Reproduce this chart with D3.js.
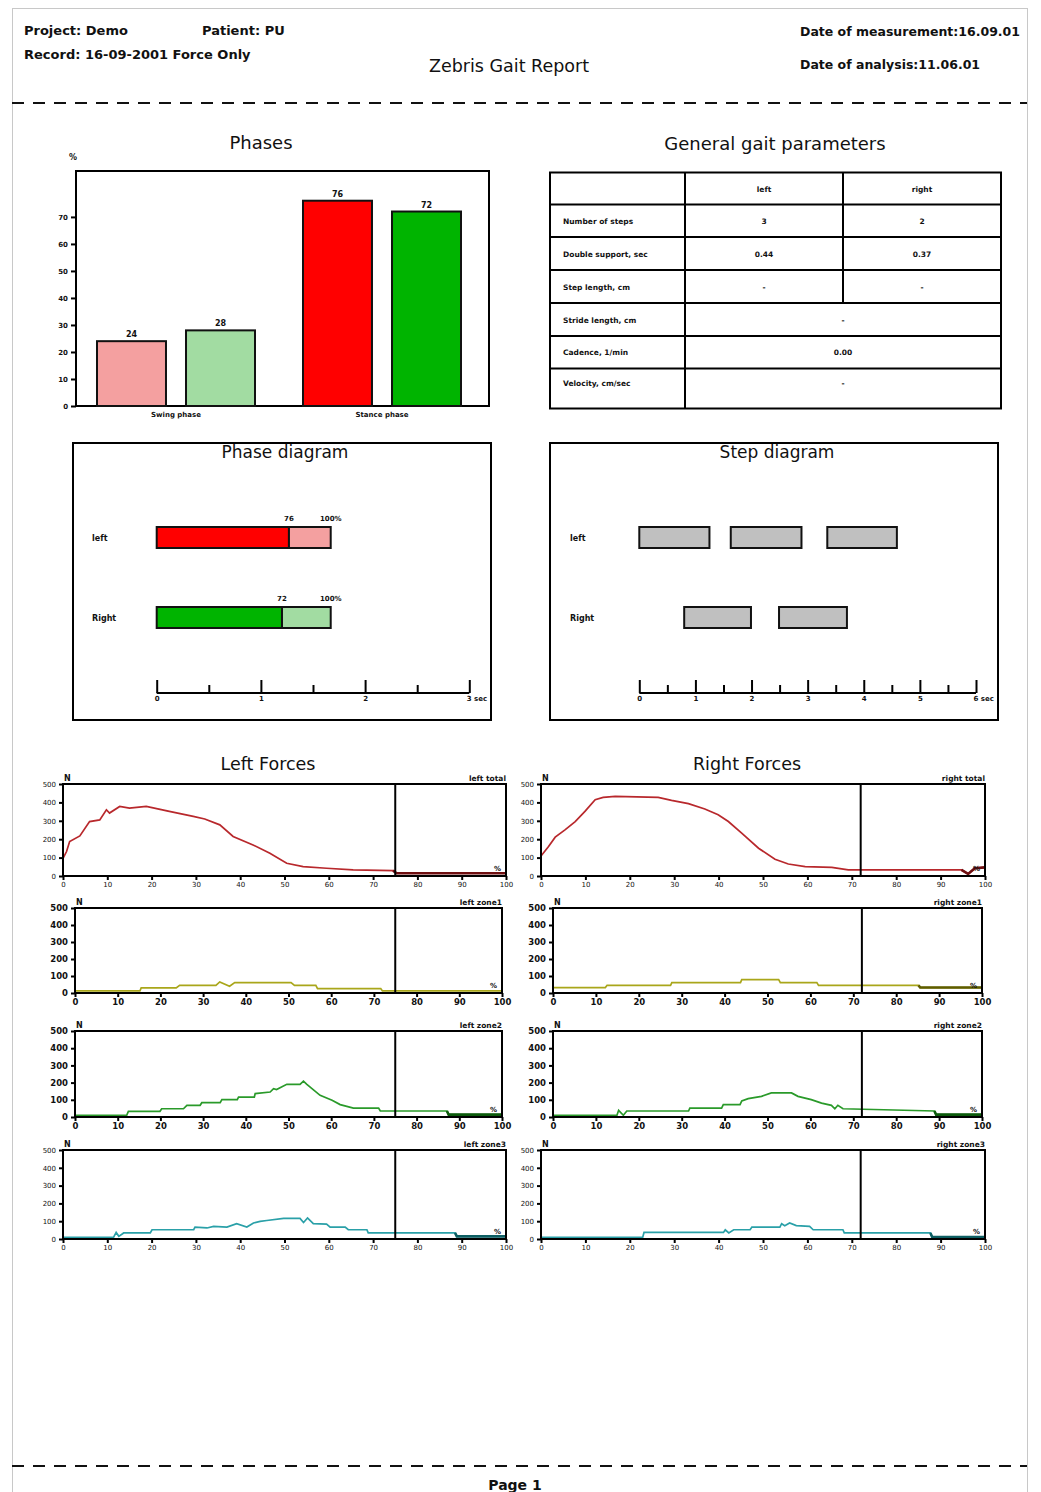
<!DOCTYPE html>
<html>
<head>
<meta charset="utf-8">
<script src="https://cdn.jsdelivr.net/npm/d3@7"></script>
<style>
  body { margin: 0; background: #fff; }
  text { font-family: "DejaVu Sans", sans-serif; fill: #111; }
</style>
</head>
<body>
<div id="report"></div>
<script>
// ---- data ----
const phaseGroups = ["Swing phase", "Stance phase"];
const phaseSides = ["left", "right"];
const leftPhases = [24, 76];
const rightPhases = [28, 72];
const phaseTicks = [0, 10, 20, 30, 40, 50, 60, 70];

const tableHead = ["", "left", "right"];
const tableRows = ["Number of steps", "Double support, sec", "Step length, cm", "Stride length, cm", "Cadence, 1/min", "Velocity, cm/sec"];
const tableLeft = ["3", "0.44", "-", "-", "0.00", "-"];
const tableRight = ["2", "0.37", "-", null, null, null]; // null = merged cell

const sides = ["left", "Right"];
const cycleTime = [1.67, 1.67];     // sec
const stancePercent = [76, 72];
const phaseSecTicks = [0, 1, 2, 3];

const leftSteps = [[0, 1.25], [1.63, 2.89], [3.35, 4.59]];
const rightSteps = [[0.8, 1.99], [2.49, 3.7]];
const stepSecTicks = [0, 1, 2, 3, 4, 5, 6];

const percentTicks = [0, 10, 20, 30, 40, 50, 60, 70, 80, 90, 100];
const forceTicks = [0, 100, 200, 300, 400, 500];
const leftStanceEnd = 75;
const rightStanceEnd = 72;

const leftTotal = [[0,96],[0.8,133],[1.5,187],[3.8,218],[6,296],[8.3,305],[9.8,360],[10.5,342],[12.8,378],[15,369],[18.8,378],[24,351],[29.4,324],[32,310],[35.4,278],[38.4,215],[42.9,169],[46.7,124],[50.5,69],[54.2,51],[59.5,42],[65.5,33],[74.5,29],[75.3,15],[97,15],[100,15]];
const leftZone1 = [[0,12],[15.2,12],[15.5,30],[23.7,30],[24.5,45],[33,45],[33.9,65],[36.2,40],[37.4,61],[50.6,61],[51.4,45],[56.4,45],[56.8,26],[71.6,26],[72,12],[100,12]];
const leftZone2 = [[0,10],[12.1,10],[12.5,33],[19.9,33],[20.3,48],[25.4,48],[26.2,68],[29.3,68],[29.7,83],[34,83],[34.4,101],[38,101],[38.3,116],[42,116],[42.2,136],[45.7,145],[46.5,165],[47.2,160],[49.6,190],[52.7,190],[53.5,209],[54.3,190],[57.4,126],[60.2,97],[62.1,72],[65.2,52],[71.1,52],[71.5,35],[87.1,35],[87.5,14],[100,14]];
const leftZone3 = [[0,9],[11.4,9],[12,37],[12.6,15],[13.7,34],[19.7,34],[20.1,52],[29.5,52],[29.8,67],[32.5,62],[34,71],[37,67],[39.2,86],[41.5,67],[43,90],[44.5,99],[46,104],[49.8,116],[53.5,116],[54.3,93],[55.2,118],[56.5,86],[59.5,84],[60.3,67],[63.7,67],[64.4,52],[68.6,52],[68.9,34],[88.5,34],[88.9,15],[100,15]];

const rightTotal = [[0,109],[1.7,160],[3.2,211],[5.4,251],[7.7,296],[9.9,351],[12.2,415],[14,427],[16.7,433],[26.4,427],[29.4,411],[33.2,393],[36.9,364],[39.9,333],[42.2,296],[45.2,233],[49,151],[52.7,91],[55.7,65],[59.5,51],[65.5,47],[69.2,33],[94.7,33],[96.2,11],[97.7,42],[100,47]];
const rightZone1 = [[0,32],[12.2,32],[12.6,45],[27.4,45],[27.7,61],[43.7,61],[44,79],[52.6,79],[53,61],[61.5,61],[61.9,45],[85.2,45],[85.6,32],[100,32]];
const rightZone2 = [[0,10],[14.9,10],[15.3,39],[16.4,10],[17.2,35],[31.6,35],[31.9,52],[39.3,52],[39.7,72],[43.6,72],[44,93],[45.5,107],[48.6,120],[50.9,140],[55.6,140],[57.1,120],[60.2,101],[62.6,81],[64.9,68],[65.7,48],[66.4,68],[67.6,48],[88.9,35],[89.3,14],[100,14]];
const rightZone3 = [[0,9],[22.9,9],[23.2,37],[41.1,37],[41.5,52],[42.3,34],[43.4,52],[47.1,52],[47.5,67],[53.8,67],[54.2,86],[54.9,75],[56,90],[57.5,75],[60.5,71],[61.3,52],[68,52],[68.3,34],[87.7,34],[88.1,11],[100,11]];

// ---- page ----
const W = 1041, H = 1492;
const svg = d3.select("#report").append("svg")
  .attr("width", W).attr("height", H);

svg.append("rect").attr("x", 12.5).attr("y", 8.5).attr("width", 1015).attr("height", H)
  .attr("fill", "none").attr("stroke", "#c8c8c8");

const txt = (x, y, s, size, opts = {}) => svg.append("text")
  .attr("x", x).attr("y", y).text(s)
  .attr("font-size", size)
  .attr("font-weight", opts.bold ? "bold" : "normal")
  .attr("text-anchor", opts.anchor || "start");

txt(24, 35, "Project: Demo", 13, { bold: true });
txt(202, 35, "Patient: PU", 13, { bold: true });
txt(24, 59, "Record: 16-09-2001 Force Only", 13, { bold: true });
txt(509, 72, "Zebris Gait Report", 17.5, { anchor: "middle" });
txt(800, 36, "Date of measurement:16.09.01", 12.5, { bold: true });
txt(800, 69, "Date of analysis:11.06.01", 12.5, { bold: true });

[103, 1466].forEach(y => svg.append("line")
  .attr("x1", 12).attr("x2", 1027).attr("y1", y).attr("y2", y)
  .attr("stroke", "#111").attr("stroke-width", 2).attr("stroke-dasharray", "12,9"));
txt(515, 1490, "Page 1", 14, { bold: true, anchor: "middle" });

const styleAxis = (g, size, bold) => {
  g.select(".domain").remove();
  g.selectAll("line").attr("stroke", "#000").attr("stroke-width", 2);
  g.selectAll("text").attr("font-size", size).attr("font-weight", bold ? "bold" : "normal")
    .attr("fill", "#111").attr("font-family", "DejaVu Sans, sans-serif");
};

// ---- Phases bar chart ----
{
  const box = { x0: 76, x1: 489, y0: 171, y1: 406 };
  txt(261, 149, "Phases", 18, { anchor: "middle" });
  const x0 = d3.scaleBand().domain(phaseGroups).range([97, 461]).paddingInner(0.233);
  const x1 = d3.scaleBand().domain(phaseSides).range([0, x0.bandwidth()]).paddingInner(0.225);
  const y = d3.scaleLinear().domain([0, 87]).range([box.y1, box.y0]);
  const colors = { left: ["#f4a0a0", "#ff0000"], right: ["#a2dca2", "#00b400"] };
  const vals = { left: leftPhases, right: rightPhases };

  svg.append("rect").attr("x", box.x0).attr("y", box.y0)
    .attr("width", box.x1 - box.x0).attr("height", box.y1 - box.y0)
    .attr("fill", "none").attr("stroke", "#000").attr("stroke-width", 2);

  const g = svg.append("g");
  phaseGroups.forEach((grp, i) => {
    phaseSides.forEach(side => {
      const v = vals[side][i];
      const bx = x0(grp) + x1(side);
      g.append("rect").attr("x", bx).attr("y", y(v))
        .attr("width", x1.bandwidth()).attr("height", y(0) - y(v))
        .attr("fill", colors[side][i]).attr("stroke", "#111").attr("stroke-width", 2);
      g.append("text").attr("x", bx + x1.bandwidth() / 2).attr("y", y(v) - 4)
        .attr("text-anchor", "middle").attr("font-size", 8).attr("font-weight", "bold").text(v);
    });
    g.append("text").attr("x", x0(grp) + x0.bandwidth() / 2).attr("y", 417)
      .attr("text-anchor", "middle").attr("font-size", 7).attr("font-weight", "bold").text(grp);
  });

  svg.append("g").attr("transform", `translate(${box.x0},0)`)
    .call(d3.axisLeft(y).tickValues(phaseTicks).tickSize(5).tickPadding(3))
    .call(ax => styleAxis(ax, 7, true));
  txt(69, 160, "%", 8, { bold: true });
}

// ---- General gait parameters table ----
{
  txt(775, 150, "General gait parameters", 18, { anchor: "middle" });
  const colX = [550, 685, 843, 1001];
  const rowB = [172.5, 204.5, 237, 270, 303, 336, 368.5, 408.5];
  const t = svg.append("g");
  t.append("rect").attr("x", colX[0]).attr("y", rowB[0])
    .attr("width", colX[3] - colX[0]).attr("height", rowB[7] - rowB[0])
    .attr("fill", "none").attr("stroke", "#000").attr("stroke-width", 2);
  rowB.slice(1, -1).forEach(yy => t.append("line")
    .attr("x1", colX[0]).attr("x2", colX[3]).attr("y1", yy).attr("y2", yy)
    .attr("stroke", "#000").attr("stroke-width", 2));
  t.append("line").attr("x1", colX[1]).attr("x2", colX[1]).attr("y1", rowB[0]).attr("y2", rowB[7])
    .attr("stroke", "#000").attr("stroke-width", 2);
  t.append("line").attr("x1", colX[2]).attr("x2", colX[2]).attr("y1", rowB[0]).attr("y2", rowB[4])
    .attr("stroke", "#000").attr("stroke-width", 2);

  const cell = (x, y, s, anchor) => t.append("text").attr("x", x).attr("y", y)
    .attr("text-anchor", anchor).attr("font-size", 7.5).attr("font-weight", "bold").text(s);
  const midY = i => (i === 6 ? rowB[i] + 17 : (rowB[i] + rowB[i + 1]) / 2 + 3);
  cell((colX[1] + colX[2]) / 2, midY(0), tableHead[1], "middle");
  cell((colX[2] + colX[3]) / 2, midY(0), tableHead[2], "middle");
  tableRows.forEach((r, i) => {
    cell(563, midY(i + 1), r, "start");
    if (tableRight[i] === null) {
      cell((colX[1] + colX[3]) / 2, midY(i + 1), tableLeft[i], "middle");
    } else {
      cell((colX[1] + colX[2]) / 2, midY(i + 1), tableLeft[i], "middle");
      cell((colX[2] + colX[3]) / 2, midY(i + 1), tableRight[i], "middle");
    }
  });
}

// shared helper for the two diagrams' time axes
const timeAxis = (x, ticks, yLine, unitTick) => {
  const minor = [];
  for (let i = 0; i < ticks.length - 1; i++) minor.push((ticks[i] + ticks[i + 1]) / 2);
  svg.append("line").attr("x1", x(ticks[0])).attr("x2", x(ticks[ticks.length - 1]))
    .attr("y1", yLine).attr("y2", yLine).attr("stroke", "#000").attr("stroke-width", 2);
  svg.append("g").attr("transform", `translate(0,${yLine})`)
    .call(d3.axisBottom(x).tickValues(minor).tickSize(-8).tickFormat(""))
    .call(ax => styleAxis(ax, 7, true));
  const major = svg.append("g").attr("transform", `translate(0,${yLine})`)
    .call(d3.axisBottom(x).tickValues(ticks).tickSize(-13).tickPadding(3)
      .tickFormat(d => d === unitTick ? d + " sec" : d))
    .call(ax => styleAxis(ax, 7, true));
  major.selectAll(".tick").filter(d => d === unitTick).select("text")
    .attr("text-anchor", "start").attr("x", -3);
};

const frame = (x0, y0, x1, y1, title) => {
  svg.append("rect").attr("x", x0).attr("y", y0).attr("width", x1 - x0).attr("height", y1 - y0)
    .attr("fill", "none").attr("stroke", "#000").attr("stroke-width", 2);
  txt((x0 + x1) / 2 + 3, y0 + 15, title, 17, { anchor: "middle" });
};

// ---- Phase diagram ----
{
  frame(73, 443, 491, 720, "Phase diagram");
  const x = d3.scaleLinear().domain([0, 3]).range([156.7, 469.3]);
  const y = d3.scalePoint().domain(sides).range([537.5, 617.5]);
  const fills = [["#ff0000", "#f4a0a0"], ["#00b400", "#a2dca2"]];
  sides.forEach((s, i) => {
    const cy = y(s), T = cycleTime[i], st = T * stancePercent[i] / 100;
    txt(92, cy + 3, s, 8, { bold: true });
    svg.append("rect").attr("x", x(0)).attr("y", cy - 10.5).attr("width", x(st) - x(0)).attr("height", 21)
      .attr("fill", fills[i][0]).attr("stroke", "#111").attr("stroke-width", 2);
    svg.append("rect").attr("x", x(st)).attr("y", cy - 10.5).attr("width", x(T) - x(st)).attr("height", 21)
      .attr("fill", fills[i][1]).attr("stroke", "#111").attr("stroke-width", 2);
    txt(x(st), cy - 17, stancePercent[i], 7, { bold: true, anchor: "middle" });
    txt(x(T), cy - 17, "100%", 7, { bold: true, anchor: "middle" });
  });
  timeAxis(x, phaseSecTicks, 693, 3);
}

// ---- Step diagram ----
{
  frame(550, 443, 998, 720, "Step diagram");
  const x = d3.scaleLinear().domain([0, 6]).range([639.3, 976]);
  const y = d3.scalePoint().domain(sides).range([537.5, 617.5]);
  [leftSteps, rightSteps].forEach((steps, i) => {
    const cy = y(sides[i]);
    txt(570, cy + 3, sides[i], 8, { bold: true });
    svg.append("g").selectAll("rect").data(steps).join("rect")
      .attr("x", d => x(d[0])).attr("y", cy - 10.5)
      .attr("width", d => x(d[1]) - x(d[0])).attr("height", 21)
      .attr("fill", "#c0c0c0").attr("stroke", "#111").attr("stroke-width", 2);
  });
  timeAxis(x, stepSecTicks, 693, 6);
}

// ---- Force curves ----
txt(268, 770, "Left Forces", 17.5, { anchor: "middle" });
txt(747, 770, "Right Forces", 17.5, { anchor: "middle" });

const forceRows = [
  { y0: 784, y1: 876, bold: false, color: "#b8282c", dark: "#6e0e10", name: "total" },
  { y0: 908, y1: 993, bold: true, color: "#a9a61a", dark: "#5e5c00", name: "zone1" },
  { y0: 1031, y1: 1117, bold: true, color: "#2a9a2a", dark: "#0c5a0c", name: "zone2" },
  { y0: 1150, y1: 1239, bold: false, color: "#2aa0a8", dark: "#0c5e62", name: "zone3" }
];
const forceCols = [
  { side: "left", thin: [63, 506], wide: [75, 502], end: leftStanceEnd, data: [leftTotal, leftZone1, leftZone2, leftZone3] },
  { side: "right", thin: [541, 985], wide: [553, 982], end: rightStanceEnd, data: [rightTotal, rightZone1, rightZone2, rightZone3] }
];

forceCols.forEach(col => {
  forceRows.forEach((row, ri) => {
    const [bx0, bx1] = row.bold ? col.wide : col.thin;
    const x = d3.scaleLinear().domain([0, 100]).range([bx0, bx1]);
    const y = d3.scaleLinear().domain([0, 500]).range([row.y1, row.y0]);
    const g = svg.append("g");
    const data = col.data[ri];
    const line = d3.line().x(d => x(d[0])).y(d => y(d[1]));

    g.append("path").attr("d", line(data)).attr("fill", "none")
      .attr("stroke", row.color).attr("stroke-width", 1.7);
    // swing part drawn darker
    const swing = data.filter(d => d[0] >= col.end - 0.5);
    g.append("path").attr("d", line(swing)).attr("fill", "none")
      .attr("stroke", row.dark).attr("stroke-width", 2.6);

    g.append("line").attr("x1", x(col.end)).attr("x2", x(col.end))
      .attr("y1", row.y0).attr("y2", row.y1).attr("stroke", "#000").attr("stroke-width", 2);
    g.append("rect").attr("x", bx0).attr("y", row.y0).attr("width", bx1 - bx0).attr("height", row.y1 - row.y0)
      .attr("fill", "none").attr("stroke", "#000").attr("stroke-width", 2);

    const fs = row.bold ? 8.5 : 7;
    g.append("g").attr("transform", `translate(${bx0},0)`)
      .call(d3.axisLeft(y).tickValues(forceTicks).tickSize(4).tickPadding(3))
      .call(ax => styleAxis(ax, fs, row.bold));
    g.append("g").attr("transform", `translate(0,${row.y1})`)
      .call(d3.axisBottom(x).tickValues(percentTicks).tickSize(4).tickPadding(2))
      .call(ax => styleAxis(ax, fs, row.bold));

    txt(bx0 + 1, row.y0 - 3, "N", 8, { bold: true });
    txt(bx1, row.y0 - 3, col.side + " " + row.name, 7.5, { bold: true, anchor: "end" });
    txt(bx1 - 5, row.y1 - 5, "%", 7, { bold: true, anchor: "end" });
  });
});
</script>
</body>
</html>
